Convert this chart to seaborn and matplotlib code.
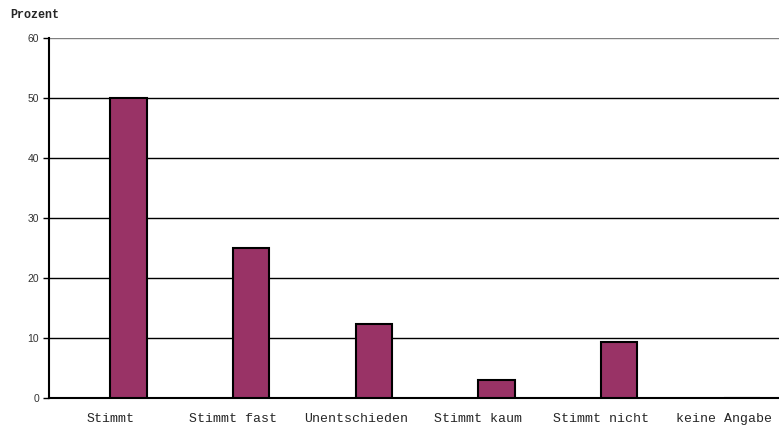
import matplotlib
matplotlib.use("Agg")
import matplotlib.pyplot as plt
import seaborn as sns
import pandas as pd
import numpy as np

# Antwortkategorien und Anteile in Prozent
kategorien = ["Stimmt", "Stimmt fast", "Unentschieden", "Stimmt kaum", "Stimmt nicht", "keine Angabe"]
prozent = [50.0, 25.0, 12.3, 3.0, 9.3, 0.0]
y_ticks = [0, 10, 20, 30, 40, 50, 60]

df = pd.DataFrame({"Kategorie": kategorien, "Prozent": prozent, "Reihe": "Befragte"})

sns.set_style("white")
fig = plt.figure(figsize=(7.79, 4.30), dpi=100)
ax = fig.add_axes([49 / 779, 32 / 430, 736 / 779, 360 / 430])

# Zwei Reihen je Kategorie; nur die zweite enthält Werte
sns.barplot(
    data=df, x="Kategorie", y="Prozent", hue="Reihe",
    hue_order=["leer", "Befragte"],
    palette={"leer": "#993366", "Befragte": "#993366"},
    order=kategorien, width=0.59, dodge=True, legend=False, saturation=1,
    edgecolor="black", linewidth=1.5, ax=ax, zorder=3,
)

ax.set_xlim(-0.5, len(kategorien) - 0.5)
ax.set_ylim(0, 60)
ax.set_yticks(y_ticks)
ax.set_yticklabels([str(v) for v in y_ticks], fontsize=7.5, color="#333333",
                   family="Liberation Sans")

# horizontale Gitterlinien
for v in y_ticks[1:]:
    ax.axhline(v, color="#808080" if v == 60 else "black", lw=1.0, zorder=1)

ax.set_xticks(range(len(kategorien)))
ax.set_xticklabels(kategorien, fontsize=9.5, family="Liberation Mono")
ax.tick_params(axis="x", which="major", length=0, pad=11)
ax.set_xticks(np.arange(0.5, len(kategorien) - 0.5, 1.0), minor=True)
ax.tick_params(axis="x", which="minor", length=5, width=1, color="black", direction="out")
ax.tick_params(axis="y", length=4, width=1, color="black", direction="out", pad=3, left=True)

ax.set_xlabel("")
ax.set_ylabel("")
for side in ["top", "right"]:
    ax.spines[side].set_visible(False)
ax.spines["left"].set_color("black")
ax.spines["left"].set_linewidth(1.5)
ax.spines["bottom"].set_color("black")
ax.spines["bottom"].set_linewidth(1.5)

fig.text(10 / 779, 1 - 15 / 430, "Prozent", fontsize=8.5, fontweight="bold",
         family="Liberation Mono", va="center", ha="left")

fig.savefig("out.png", dpi=100)
